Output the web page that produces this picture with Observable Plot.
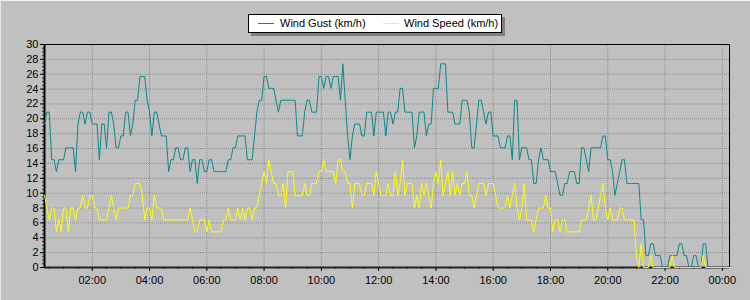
<!DOCTYPE html>
<html>
<head>
<meta charset="utf-8">
<script src="https://cdn.jsdelivr.net/npm/d3@7"></script>
<script src="https://cdn.jsdelivr.net/npm/@observablehq/plot@0.6"></script>
<style>
  html, body { margin: 0; padding: 0; background: #c0c0c0; }
  #wrap { position: relative; width: 750px; height: 300px; overflow: hidden; background: #c0c0c0;
          font-family: "Liberation Sans", Arial, sans-serif; }
  #edge { position: absolute; left: 0; top: 0; right: 0; bottom: 0; pointer-events: none;
          border-top: 1px solid #f2f2f2; border-left: 1px solid #e6e6e6; }
  #legend { position: absolute; left: 248px; top: 14px; width: 252px; height: 17px; background: #fff;
            border: 1px solid #000; box-shadow: 3px 3px 0 #808080; font-size: 11px; color: #000; }
  .swatch { position: absolute; top: 8px; width: 16px; height: 1px; }
  .ltext { position: absolute; top: 2px; white-space: nowrap; line-height: 13px; }
</style>
</head>
<body>
<div id="wrap"><div id="chart"></div><div id="legend"></div><div id="edge"></div></div>
<script>
// ---- data (5-minute samples, km/h) ----
const seriesNames = ["Wind Gust (km/h)", "Wind Speed (km/h)"];
const seriesColors = ["#088a8a", "#ffff00"];
const startTime = Date.UTC(2024, 0, 1, 0, 20); // first sample 00:20
const stepMinutes = 5;

const gust = [
  19.3, 20.9, 20.9, 14.5, 14.5, 12.9, 14.5, 14.5, 14.5, 16.1, 16.1, 16.1,
  16.1, 12.9, 19.3, 20.9, 20.9, 19.3, 20.9, 20.9, 19.3, 19.3, 19.3, 14.5,
  19.3, 19.3, 16.1, 20.9, 20.9, 19.3, 16.1, 16.1, 17.7, 17.7, 20.9, 20.9,
  17.7, 19.3, 22.5, 22.5, 25.7, 25.7, 25.7, 22.5, 20.9, 17.7, 20.9, 20.9,
  19.3, 17.7, 17.7, 17.7, 12.9, 14.5, 14.5, 16.1, 16.1, 14.5, 14.5, 16.1,
  16.1, 12.9, 14.5, 14.5, 11.3, 14.5, 14.5, 12.9, 12.9, 14.5, 14.5, 12.9,
  12.9, 12.9, 12.9, 12.9, 12.9, 14.5, 14.5, 16.1, 16.1, 17.7, 17.7, 17.7,
  17.7, 14.5, 14.5, 14.5, 17.7, 20.9, 22.5, 22.5, 25.7, 25.7, 24.1, 24.1,
  24.1, 22.5, 20.9, 22.5, 22.5, 22.5, 22.5, 22.5, 22.5, 22.5, 17.7, 17.7,
  17.7, 20.9, 22.5, 22.5, 20.9, 20.9, 20.9, 25.7, 25.7, 24.1, 25.7, 25.7,
  24.1, 25.7, 25.7, 25.7, 22.5, 27.4, 22.5, 17.7, 14.5, 17.7, 19.3, 19.3,
  19.3, 17.7, 17.7, 20.9, 20.9, 20.9, 17.7, 20.9, 20.9, 20.9, 20.9, 17.7,
  20.9, 20.9, 19.3, 20.9, 20.9, 24.1, 24.1, 20.9, 20.9, 20.9, 20.9, 16.1,
  17.7, 20.9, 20.9, 20.9, 17.7, 19.3, 19.3, 24.1, 24.1, 24.1, 27.4, 27.4,
  27.4, 20.9, 20.9, 20.9, 19.3, 19.3, 19.3, 22.5, 22.5, 22.5, 20.9, 16.1,
  16.1, 19.3, 22.5, 22.5, 20.9, 19.3, 20.9, 20.9, 17.7, 17.7, 17.7, 16.1,
  16.1, 16.1, 17.7, 17.7, 14.5, 22.5, 22.5, 14.5, 16.1, 16.1, 16.1, 14.5,
  14.5, 11.3, 11.3, 14.5, 16.1, 14.5, 14.5, 14.5, 12.9, 12.9, 12.9, 11.3,
  9.7, 9.7, 11.3, 11.3, 12.9, 12.9, 12.9, 11.3, 11.3, 16.1, 16.1, 14.5,
  12.9, 16.1, 16.1, 16.1, 16.1, 16.1, 17.7, 17.7, 14.5, 14.5, 12.9, 9.7,
  11.3, 12.9, 14.5, 14.5, 11.3, 11.3, 11.3, 11.3, 11.3, 11.3, 6.4, 6.4,
  1.6, 1.6, 3.2, 3.2, 1.6, 1.6, 1.6, 0, 0, 0, 1.6, 1.6,
  1.6, 1.6, 3.2, 3.2, 1.6, 1.6, 0, 0, 1.6, 1.6, 0, 0,
  3.2, 3.2, 0, 0, 0, 0, 0, 0, 0, 0, 0, 0
];

const speed = [
  9.7, 8.0, 6.4, 8.0, 8.0, 4.8, 6.4, 4.8, 8.0, 8.0, 4.8, 8.0,
  8.0, 6.4, 8.0, 8.0, 9.7, 8.0, 8.0, 9.7, 9.7, 8.0, 8.0, 6.4,
  6.4, 6.4, 6.4, 8.0, 9.7, 8.0, 6.4, 8.0, 8.0, 8.0, 8.0, 8.0,
  9.7, 9.7, 11.3, 11.3, 11.3, 9.7, 6.4, 8.0, 8.0, 6.4, 9.7, 8.0,
  8.0, 8.0, 6.4, 6.4, 6.4, 6.4, 6.4, 6.4, 6.4, 6.4, 6.4, 6.4,
  6.4, 8.0, 6.4, 4.8, 4.8, 6.4, 6.4, 6.4, 4.8, 6.4, 4.8, 4.8,
  4.8, 4.8, 4.8, 6.4, 6.4, 8.0, 6.4, 6.4, 6.4, 8.0, 6.4, 8.0,
  6.4, 8.0, 8.0, 6.4, 8.0, 8.0, 9.7, 11.3, 12.9, 11.3, 14.5, 12.9,
  11.3, 11.3, 9.7, 9.7, 11.3, 8.0, 12.9, 12.9, 12.9, 9.7, 9.7, 9.7,
  9.7, 11.3, 9.7, 9.7, 11.3, 11.3, 11.3, 12.9, 12.9, 14.5, 12.9, 12.9,
  12.9, 12.9, 11.3, 14.5, 14.5, 12.9, 12.9, 11.3, 11.3, 8.0, 11.3, 11.3,
  11.3, 9.7, 9.7, 11.3, 11.3, 11.3, 9.7, 12.9, 11.3, 9.7, 9.7, 9.7,
  11.3, 9.7, 9.7, 12.9, 9.7, 11.3, 14.5, 9.7, 11.3, 11.3, 11.3, 8.0,
  9.7, 8.0, 11.3, 9.7, 11.3, 9.7, 8.0, 11.3, 12.9, 11.3, 14.5, 9.7,
  11.3, 12.9, 9.7, 12.9, 9.7, 11.3, 9.7, 11.3, 11.3, 12.9, 9.7, 9.7,
  8.0, 9.7, 11.3, 11.3, 11.3, 9.7, 11.3, 11.3, 11.3, 9.7, 8.0, 8.0,
  8.0, 8.0, 9.7, 8.0, 9.7, 11.3, 8.0, 6.4, 8.0, 11.3, 6.4, 6.4,
  6.4, 4.8, 6.4, 8.0, 8.0, 8.0, 9.7, 8.0, 8.0, 4.8, 6.4, 6.4,
  4.8, 6.4, 6.4, 4.8, 4.8, 4.8, 4.8, 4.8, 4.8, 6.4, 6.4, 6.4,
  8.0, 9.7, 6.4, 6.4, 8.0, 9.7, 11.3, 8.0, 6.4, 8.0, 6.4, 6.4,
  6.4, 8.0, 8.0, 6.4, 6.4, 6.4, 6.4, 6.4, 1.6, 0, 3.2, 0,
  0, 0, 1.6, 0, 0, 0, 0, 0, 0, 0, 0, 1.6,
  0, 0, 0, 0, 0, 0, 0, 0, 0, 0, 0, 0,
  1.6, 0, 0, 0, 0, 0, 0, 0, 0, 0, 0, 0
];

const yTicks = [0, 2, 4, 6, 8, 10, 12, 14, 16, 18, 20, 22, 24, 26, 28, 30];
const yMinorStep = 0.5;
const xTickLabelFormat = "%H:%M";
const xMajorHours = 2;
const xMinorMinutes = 30;

// ---- build ----
const times = gust.map((_, i) => new Date(startTime + i * stepMinutes * 60000));
const rows = times.map((t, i) => ({t, gust: gust[i], speed: speed[i]}));
const xDomain = [times[0], times[times.length - 1]];
const xMajor = d3.utcHour.every(xMajorHours).range(xDomain[0], new Date(+xDomain[1] + 1));
const xMinor = d3.utcMinute.every(xMinorMinutes).range(xDomain[0], new Date(+xDomain[1] + 1));
const yMinor = d3.range(0, 30 + 1e-9, yMinorStep);
const gridStyle = {stroke: "#8a8a8a", strokeOpacity: 1, strokeDasharray: "1,1"};

const chart = Plot.plot({
  width: 750,
  height: 300,
  marginLeft: 44,
  marginRight: 21,
  marginTop: 44,
  marginBottom: 33,
  style: {background: "transparent", fontFamily: "'Liberation Sans', Arial, sans-serif", fontSize: "11px", color: "#000", overflow: "visible"},
  x: {type: "utc", domain: xDomain, label: null},
  y: {domain: [0, 30], label: null},
  marks: [
    Plot.gridY(yTicks.slice(1, -1), gridStyle),
    Plot.gridX(xMajor, gridStyle),
    Plot.axisY(yMinor, {tickSize: 2, text: null, label: null, stroke: "#333"}),
    Plot.axisY(yTicks, {tickSize: 4, tickPadding: 2, label: null, stroke: "#000", fill: "#000"}),
    Plot.axisX(xMinor, {tickSize: 2, text: null, label: null, stroke: "#333"}),
    Plot.axisX(xMajor, {tickSize: 4, tickPadding: 5, label: null, tickFormat: d3.utcFormat(xTickLabelFormat), stroke: "#000", fill: "#000"}),
    Plot.frame({stroke: "#000"}),
    Plot.ruleX([xDomain[0]], {stroke: "#000", strokeWidth: 2}),
    Plot.ruleY([0], {stroke: "#222", strokeWidth: 2}),
    Plot.line(rows, {x: "t", y: "gust", stroke: seriesColors[0], strokeWidth: 1}),
    Plot.line(rows, {x: "t", y: "speed", stroke: seriesColors[1], strokeWidth: 1})
  ]
});
document.getElementById("chart").appendChild(chart);

// ---- legend ----
const legend = document.getElementById("legend");
const swatchX = [9, 134];
const textX = [31, 155];
seriesNames.forEach((name, i) => {
  const sw = document.createElement("div");
  sw.className = "swatch";
  sw.style.left = swatchX[i] + "px";
  sw.style.background = seriesColors[i];
  legend.appendChild(sw);
  const tx = document.createElement("div");
  tx.className = "ltext";
  tx.style.left = textX[i] + "px";
  tx.textContent = name;
  legend.appendChild(tx);
});
</script>
</body>
</html>
